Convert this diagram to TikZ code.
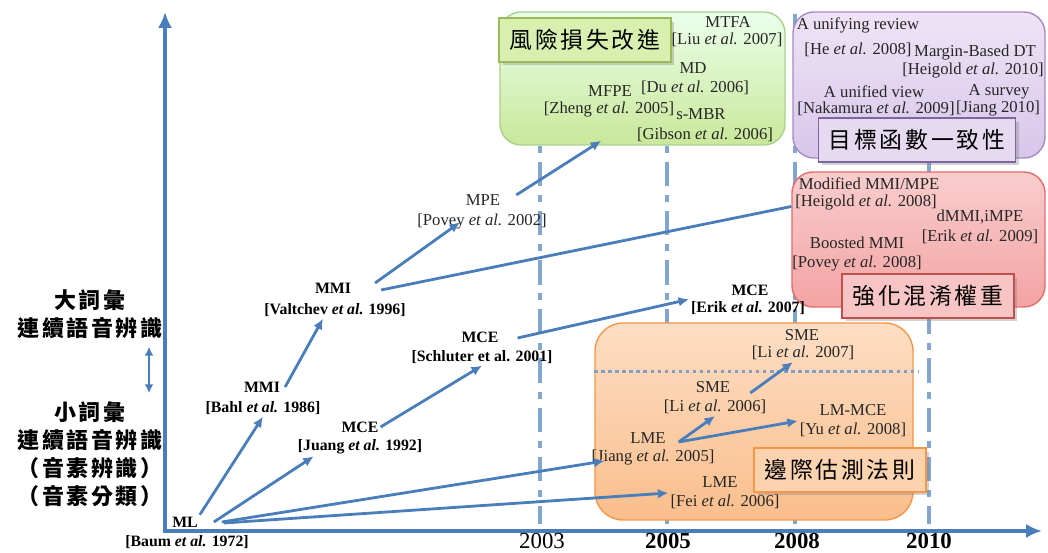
\documentclass[tikz,border=0pt]{standalone}
\usepackage{fontspec}
\setmainfont{Liberation Serif}
\newfontfamily\cjk[LetterSpace=12]{Noto Sans CJK TC}
\usepackage{tikz}
\usetikzlibrary{arrows.meta, positioning, calc, shadows, fit}

\definecolor{axisblue}{RGB}{74,126,187}
\definecolor{dashblue}{RGB}{130,166,208}
\definecolor{greenline}{RGB}{169,209,142}
\definecolor{greentag}{RGB}{155,187,89}
\definecolor{purpleline}{RGB}{165,139,196}
\definecolor{purpletag}{RGB}{128,100,162}
\definecolor{redline}{RGB}{228,108,108}
\definecolor{redtag}{RGB}{192,80,77}
\definecolor{orangeline}{RGB}{247,150,70}

\begin{document}
\begin{tikzpicture}[x=0.02cm, y=-0.02cm,
    cite/.style={font=\fontsize{9.5}{11}\selectfont, text=black!85, inner sep=1pt},
    bcite/.style={font=\fontsize{9}{11}\selectfont\bfseries, inner sep=1pt},
    year/.style={font=\fontsize{13}{15}\selectfont, inner sep=0pt},
    byear/.style={year, font=\fontsize{13}{15}\selectfont\bfseries},
    cjklab/.style={font={\cjk\bfseries\fontsize{12.5}{16}\selectfont}, align=center, inner sep=1pt},
    tagbox/.style={font={\cjk\fontsize{13}{15}\selectfont}, draw, line width=0.8pt,
        minimum height=25pt, inner xsep=6pt,
        drop shadow={opacity=0.35, shadow xshift=2pt, shadow yshift=-2pt}},
    bigbox/.style={rounded corners=12pt, draw, line width=0.8pt, inner sep=0pt},
    link/.style={axisblue, line width=1.6pt, -{Latex[length=6pt,width=5.5pt]}},
    era/.style={dashblue, line width=2.6pt, dash pattern=on 14pt off 5pt on 4pt off 5pt},
    axis/.style={axisblue, line width=2.2pt, -{Latex[length=9pt,width=8pt]}}
]
    \useasboundingbox (0,0) rectangle (1048,553);

    % time lines
    \foreach \x in {540,667,795,929}
        \draw[era] (\x,14) -- (\x,524);

    % axes
    \draw[axis] (165,533) -- (165,12);
    \draw[axis] (163,531) -- (1042,531);
    \node[year] (y2003) at (542,541) {2003};
    \node[byear] (y2005) at (668,541) {2005};
    \node[byear] (y2008) at (797,541) {2008};
    \node[byear] (y2010) at (929,541) {2010};

    % vocabulary size
    \node[cjklab] (bigvocab) at (90,314) {大詞彙\\連續語音辨識};
    \node[cjklab] (smallvocab) at (90,454) {小詞彙\\連續語音辨識\\（音素辨識）\\（音素分類）};
    \draw[axisblue, line width=1.2pt, {Latex[length=5pt,width=5pt]}-{Latex[length=5pt,width=5pt]}]
        ($(bigvocab.south)+(59,6)$) -- ($(smallvocab.north)+(59,-6)$);

    % big boxes
    \node[bigbox, draw=greenline, top color=green!8!white, bottom color={rgb,255:red,201;green,232;blue,154},
        fit={(500,12) (785,145)}] (riskbox) {};
    \node[bigbox, draw=purpleline, top color={rgb,255:red,238;green,228;blue,246}, bottom color={rgb,255:red,216;green,198;blue,234},
        fit={(793,12) (1045,158)}] (objbox) {};
    \node[bigbox, draw=redline, top color={rgb,255:red,250;green,205;blue,205}, bottom color={rgb,255:red,243;green,163;blue,163},
        fit={(792,172) (1045,307)}] (confbox) {};
    \node[bigbox, rounded corners=16pt, draw=orangeline, top color={rgb,255:red,253;green,222;blue,196}, bottom color={rgb,255:red,250;green,190;blue,140},
        fit={(595,323) (913,520)}] (marginbox) {};
    \draw[dashblue!80!gray, line width=1.6pt, dash pattern=on 2pt off 2pt]
        ($(marginbox.north west)+(0,49)$) -- ($(marginbox.north east)+(4,49)$);

    % tags
    \node[tagbox, draw=greentag, fill={rgb,255:red,216;green,239;blue,176}] (risktag) at (585,40) {風險損失改進};
    \node[tagbox, draw=purpletag, fill={rgb,255:red,230;green,218;blue,240}] (objtag) at (917,140) {目標函數一致性};
    \node[tagbox, draw=redtag, fill={rgb,255:red,248;green,196;blue,196}] (conftag) at (928,296) {強化混淆權重};
    \node[tagbox, draw=orangeline, fill={rgb,255:red,252;green,211;blue,174}] (margintag) at (840,470) {邊際估測法則};

    % risk box
    \node[cite] (mtfa) at (728,22) {MTFA};
    \node[cite] (mtfac) at (727,40) {[Liu \textit{et al.} 2007]};
    \node[cite] (md) at (693,68) {MD};
    \node[cite] (mdc) at (695,88) {[Du \textit{et al.} 2006]};
    \node[cite] (mfpe) at (610,91) {MFPE};
    \node[cite] (mfpec) at (609,110) {[Zheng \textit{et al.} 2005]};
    \node[cite] (smbr) at (701,114) {s-MBR};
    \node[cite] (smbrc) at (705,135) {[Gibson \textit{et al.} 2006]};

    % objective box
    \node[cite] (review) at (858,25) {A unifying review};
    \node[cite] (reviewc) at (858,50) {[He \textit{et al.} 2008]};
    \node[cite] (mbdt) at (975,53) {Margin-Based DT};
    \node[cite] (mbdtc) at (973,71) {[Heigold \textit{et al.} 2010]};
    \node[cite] (uview) at (874,92) {A unified view};
    \node[cite] (uviewc) at (876,109) {[Nakamura \textit{et al.} 2009]};
    \node[cite] (survey) at (999,92) {A survey};
    \node[cite] (surveyc) at (998,109) {[Jiang 2010]};

    % confusion box
    \node[cite] (modmmi) at (869,184) {Modified MMI/MPE};
    \node[cite] (modmmic) at (866,203) {[Heigold \textit{et al.} 2008]};
    \node[cite] (dmmi) at (980,217) {dMMI,iMPE};
    \node[cite] (dmmic) at (980,237) {[Erik \textit{et al.} 2009]};
    \node[cite] (boost) at (857,243) {Boosted MMI};
    \node[cite] (boostc) at (857,264) {[Povey \textit{et al.} 2008]};

    % margin box
    \node[cite] (sme07) at (802,335) {SME};
    \node[cite] (sme07c) at (803,353) {[Li \textit{et al.} 2007]};
    \node[cite] (sme06) at (713,387) {SME};
    \node[cite] (sme06c) at (715,407) {[Li \textit{et al.} 2006]};
    \node[cite] (lmmce) at (853,410) {LM-MCE};
    \node[cite] (lmmcec) at (853,430) {[Yu \textit{et al.} 2008]};
    \node[cite] (lme) at (648,438) {LME};
    \node[cite] (jiangc) at (653,458) {[Jiang \textit{et al.} 2005]};
    \node[cite] (fei) at (720,482) {LME};
    \node[cite] (feic) at (725,502) {[Fei \textit{et al.} 2006]};

    % early methods
    \node[bcite] (ml) at (185,522) {ML};
    \node[bcite] (mlc) at (187,542) {[Baum \textit{et al.} 1972]};
    \node[bcite] (bahl) at (262,387) {MMI};
    \node[bcite] (bahlc) at (263,408) {[Bahl \textit{et al.} 1986]};
    \node[bcite] (juang) at (360,427) {MCE};
    \node[bcite] (juangc) at (360,447) {[Juang \textit{et al.} 1992]};
    \node[bcite] (valt) at (333,288) {MMI};
    \node[bcite] (valtc) at (335,310) {[Valtchev \textit{et al.} 1996]};
    \node[bcite] (schl) at (480,337) {MCE};
    \node[bcite] (schlc) at (482,357) {[Schluter et al. 2001]};
    \node[cite] (mpe) at (483,200) {MPE};
    \node[cite] (mpec) at (482,222) {[Povey \textit{et al.} 2002]};
    \node[bcite] (erik) at (750,290) {MCE};
    \node[bcite] (erikc) at (748,308) {[Erik \textit{et al.} 2007]};

    % evolution
    \draw[link] (ml.north east) -- (bahlc.south);
    \draw[link] ($(ml.east)+(14,0)$) -- ($(juangc.south west)+(18,0)$);
    \draw[link] ($(ml.east)+(22,0)$) -- ($(jiangc.west)+(15,3)$);
    \draw[link] ($(ml.east)+(24,1)$) -- (feic.north west);
    \draw[link] ($(bahl.east)+(3,0)$) -- ($(valtc.south)+(-12,0)$);
    \draw[link] (juang.east) -- (schlc.south);
    \draw[link] ($(valt.east)+(22,-5)$) -- ($(mpec.north)+(-22,10)$);
    \draw[link] ($(mpe.east)+(14,-5)$) -- ($(riskbox.south west)+(102,-5)$);
    \draw[link, -] ($(valt.east)+(28,2)$) -- ($(confbox.west)+(0,-33)$);
    \draw[link] ($(schl.east)+(17,1)$) -- (erikc.north west);
    \draw[link] ($(lme.east)+(11,4)$) -- (sme06c.south);
    \draw[link] ($(lme.east)+(11,4)$) -- (lmmcec.north west);
    \draw[link] ($(sme06.east)+(18,6)$) -- ($(sme07c.south)+(-10,0)$);
\end{tikzpicture}
\end{document}
